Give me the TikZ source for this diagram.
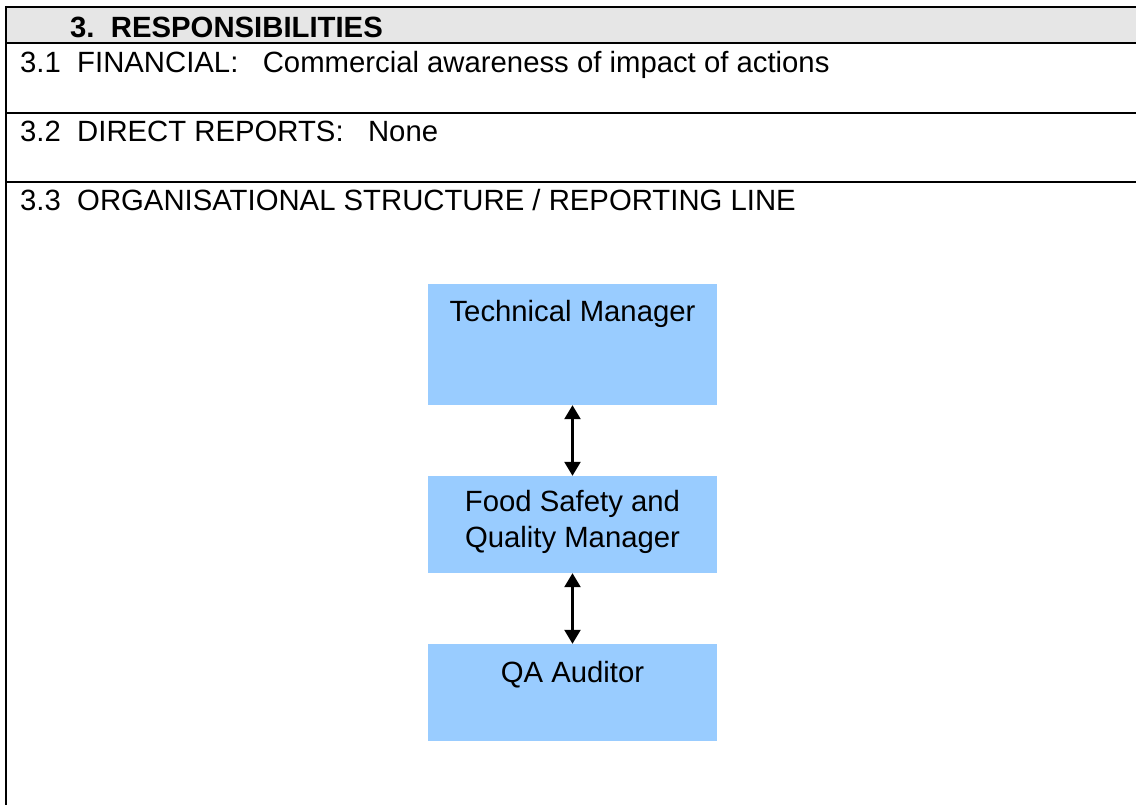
\documentclass[tikz,border=0pt]{standalone}
\usepackage{fontspec}
\setmainfont{Liberation Sans}
\usetikzlibrary{arrows.meta}
\definecolor{headgray}{HTML}{E6E6E6}
\definecolor{orgblue}{HTML}{99CCFF}
\begin{document}
\begin{tikzpicture}[x=1pt,y=-1pt,
  rule/.style={line width=2.4pt, black},
  rowtext/.style={anchor=base west, inner sep=0pt, font=\fontsize{29.3}{35}\selectfont},
  headtext/.style={anchor=base west, inner sep=0pt, font=\fontsize{29.3}{35}\selectfont\bfseries},
  orgbox/.style={rectangle, fill=orgblue, draw=none, minimum width=289pt, inner sep=0pt},
  boxtext/.style={anchor=base, inner sep=0pt, align=center, font=\fontsize{29.3}{36}\selectfont},
  biarrow/.style={line width=2.4pt, {Triangle[width=16pt,length=14pt]}-{Triangle[width=16pt,length=14pt]}}]
  \useasboundingbox (0,0) rectangle (1136,805);
  \clip (0,0) rectangle (1136,805);

  % table heading band and rules
  \fill[headgray] (6,7) rectangle (1140,43);
  \draw[rule] (6,7) -- (1140,7);
  \draw[rule] (6,43) -- (1140,43);
  \draw[rule] (6,113) -- (1140,113);
  \draw[rule] (6,182) -- (1140,182);
  \draw[rule] (6,6) -- (6,810);

  % row texts
  \node[headtext] (head) at (70,38) {3.\hspace{0.556em}RESPONSIBILITIES};
  \node[rowtext] (fin) at (20,73) {3.1\hspace{0.556em}FINANCIAL:\hspace{0.834em}Commercial awareness of impact of actions};
  \node[rowtext] (dir) at (20,142) {3.2\hspace{0.556em}DIRECT REPORTS:\hspace{0.834em}None};
  \node[rowtext] (org) at (20,211) {3.3\hspace{0.556em}ORGANISATIONAL STRUCTURE / REPORTING LINE};

  % reporting line chart
  \node[orgbox, minimum height=121pt] (tm) at (572.5,344.5) {};
  \node[orgbox, minimum height=97pt] (fsq) at (572.5,524.5) {};
  \node[orgbox, minimum height=97pt] (qa) at (572.5,692.5) {};

  \node[boxtext] (tmtext) at (572.5,322) {Technical Manager};
  \node[boxtext] (fsqtext) at (572.5,547) {Food Safety and\\Quality Manager};
  \node[boxtext] (qatext) at (572.5,682) {QA Auditor};

  \draw[biarrow] (tm.south) -- (fsq.north);
  \draw[biarrow] (fsq.south) -- (qa.north);
\end{tikzpicture}
\end{document}
